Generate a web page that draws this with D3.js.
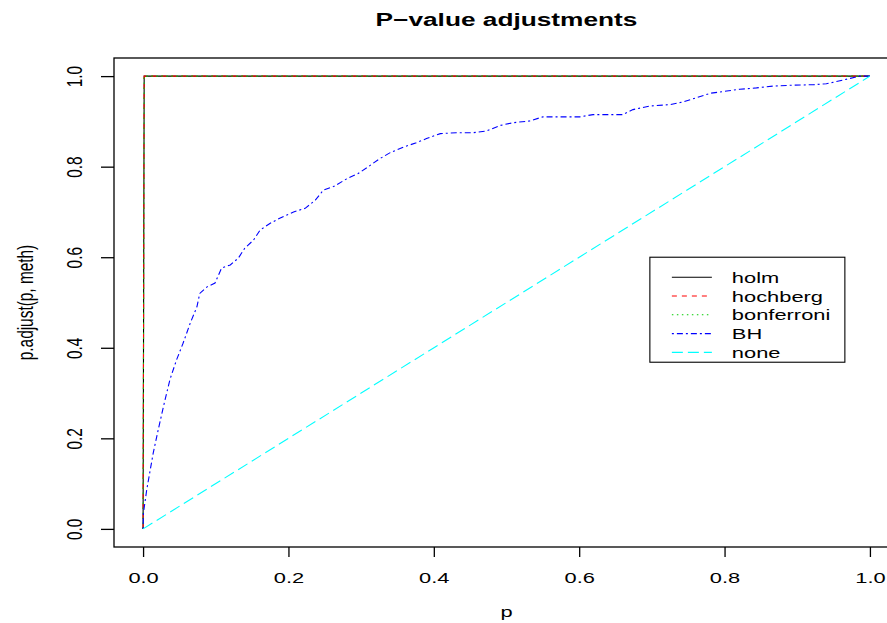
<!DOCTYPE html>
<html>

<head>
    <meta charset='utf-8'>
    <title>P-value adjustments</title>
    <script src='https://cdn.jsdelivr.net/npm/d3@7'></script>
    <style>
        body { margin: 0; background: #fff; }
        text { font-family: 'Liberation Sans', Arial, Helvetica, sans-serif; }
    </style>
</head>

<body>
    <svg width='887' height='623'></svg>
    <script>
        // methods shown in the legend
        const methods = ['holm', 'hochberg', 'bonferroni', 'BH', 'none']
        const colors = ['#000000', '#ff0000', '#00cd00', '#0000ff', '#00ffff']
        const dashes = [null, '5,5', '1.5,3.5', '2,3,6,3', '11,5']

        // values, one pair of arrays per series
        const holmP = [0, 0.0015, 1]
        const holmV = [0, 1, 1]
        const hochbergP = [0, 0.0015, 1]
        const hochbergV = [0, 1, 1]
        const bonferroniP = [0, 0.0015, 1]
        const bonferroniV = [0, 1, 1]
        const bhP = [0, 0.0005, 0.005, 0.014, 0.021, 0.028, 0.037, 0.046, 0.055, 0.065, 0.074, 0.078,
            0.0875, 0.099, 0.108, 0.12, 0.131, 0.14, 0.152, 0.161, 0.175, 0.188, 0.207, 0.223, 0.237,
            0.248, 0.262, 0.28, 0.296, 0.31, 0.324, 0.34, 0.358, 0.376, 0.39, 0.409, 0.431, 0.454,
            0.473, 0.491, 0.509, 0.532, 0.55, 0.578, 0.601, 0.619, 0.66, 0.674, 0.697, 0.725, 0.743,
            0.761, 0.78, 0.803, 0.821, 0.844, 0.867, 0.894, 0.922, 0.94, 0.954, 0.973, 0.986, 1]
        const bhV = [0, 0.035, 0.086, 0.168, 0.22, 0.27, 0.33, 0.373, 0.41, 0.455, 0.49, 0.52,
            0.534, 0.543, 0.576, 0.583, 0.598, 0.62, 0.638, 0.66, 0.675, 0.686, 0.70, 0.708, 0.726,
            0.748, 0.756, 0.773, 0.785, 0.80, 0.816, 0.831, 0.843, 0.853, 0.862, 0.873, 0.875, 0.875,
            0.879, 0.891, 0.897, 0.901, 0.91, 0.91, 0.91, 0.915, 0.915, 0.926, 0.934, 0.937, 0.943,
            0.952, 0.962, 0.967, 0.971, 0.974, 0.978, 0.98, 0.981, 0.983, 0.988, 0.995, 1.0, 1]
        const noneP = [0, 1]
        const noneV = [0, 1]

        const xTicks = [0, 0.2, 0.4, 0.6, 0.8, 1.0]
        const yTicks = [0, 0.2, 0.4, 0.6, 0.8, 1.0]

        const series = [
            { p: holmP, v: holmV },
            { p: hochbergP, v: hochbergV },
            { p: bonferroniP, v: bonferroniV },
            { p: bhP, v: bhV },
            { p: noneP, v: noneV }
        ]

        const SX = 1.42   // picture is stretched horizontally
        const FS = 15.4

        const svg = d3.select('svg')
        const x = d3.scaleLinear().domain([-0.04, 1.04]).range([114, 899])
        const y = d3.scaleLinear().domain([-0.04, 1.04]).range([547, 58])

        // lines
        const line = d3.line().x(d => x(d[0])).y(d => y(d[1]))
        series.forEach((s, i) => {
            svg.append('path')
                .attr('d', line(s.p.map((p, j) => [p, s.v[j]])))
                .attr('fill', 'none')
                .attr('stroke', colors[i])
                .attr('stroke-width', 1.1)
                .attr('stroke-dasharray', dashes[i])
        })

        // box
        svg.append('rect')
            .attr('x', x(-0.04)).attr('y', y(1.04))
            .attr('width', x(1.04) - x(-0.04)).attr('height', y(-0.04) - y(1.04))
            .attr('fill', 'none').attr('stroke', '#000').attr('stroke-width', 1.3)

        // x axis
        const gx = svg.append('g').attr('transform', `translate(0,${y(-0.04)})`)
            .call(d3.axisBottom(x).tickValues(xTicks).tickFormat(d3.format('.1f')).tickSize(10).tickSizeOuter(0).tickPadding(15))
        gx.select('.domain').remove()
        gx.selectAll('line').attr('stroke-width', 1.3)
        gx.selectAll('text')
            .attr('fill', '#000').attr('font-size', FS)
            .attr('font-family', "'Liberation Sans', Arial, sans-serif")
            .attr('transform', `scale(${SX},1)`)

        // y axis with rotated labels
        const gy = svg.append('g').attr('transform', `translate(${x(-0.04)},0)`)
            .call(d3.axisLeft(y).tickValues(yTicks).tickFormat(d3.format('.1f')).tickSize(13).tickSizeOuter(0))
        gy.select('.domain').remove()
        gy.selectAll('line').attr('stroke-width', 1.3)
        gy.selectAll('text')
            .attr('fill', '#000').attr('font-size', FS)
            .attr('font-family', "'Liberation Sans', Arial, sans-serif")
            .attr('x', null).attr('dy', null)
            .attr('text-anchor', 'middle')
            .attr('transform', `translate(-32,0) scale(${SX},1) rotate(-90)`)

        // title and axis labels
        svg.append('text')
            .attr('transform', `translate(${(x(-0.04) + x(1.04)) / 2},26) scale(${SX},1)`)
            .attr('text-anchor', 'middle').attr('font-size', 18.5).attr('font-weight', 'bold')
            .text('P\u2212value adjustments')
        svg.append('text')
            .attr('transform', `translate(${(x(-0.04) + x(1.04)) / 2},617) scale(${SX},1)`)
            .attr('text-anchor', 'middle').attr('font-size', FS)
            .text('p')
        svg.append('text')
            .attr('transform', `translate(33,${(y(-0.04) + y(1.04)) / 2}) scale(${SX},1) rotate(-90)`)
            .attr('text-anchor', 'middle').attr('font-size', FS)
            .text('p.adjust(p, meth)')

        // legend, top-left at (0.7, 0.6)
        const lx = x(0.7), ly = y(0.6)
        const legend = svg.append('g').attr('transform', `translate(${lx},${ly})`)
        legend.append('rect')
            .attr('x', -2).attr('y', 0).attr('width', 195).attr('height', 105)
            .attr('fill', '#fff').attr('stroke', '#000').attr('stroke-width', 1.1)
        methods.forEach((m, i) => {
            const ry = 20 + i * 18.8
            legend.append('line')
                .attr('x1', 20).attr('x2', 60).attr('y1', ry).attr('y2', ry)
                .attr('stroke', colors[i]).attr('stroke-width', 1.1)
                .attr('stroke-dasharray', dashes[i])
            legend.append('text')
                .attr('transform', `translate(80,${ry + 5.5}) scale(${SX},1)`)
                .attr('font-size', FS)
                .text(m)
        })
    </script>
</body>

</html>
